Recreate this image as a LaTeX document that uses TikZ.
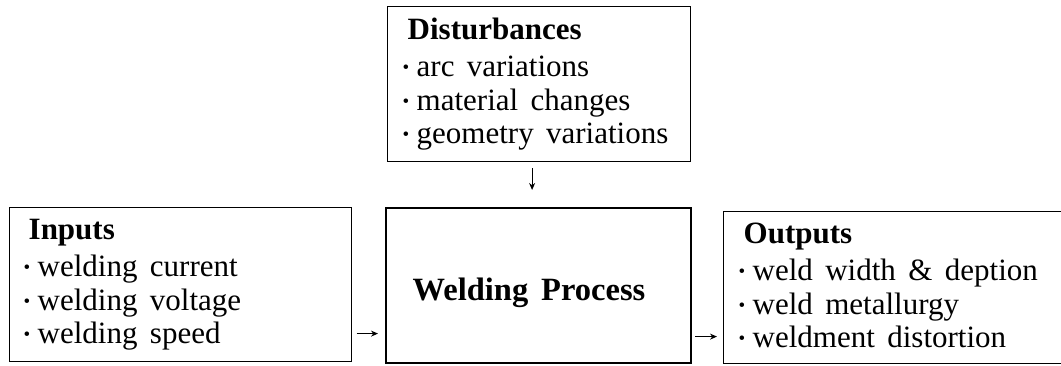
\documentclass[tikz,border=0pt]{standalone}
\usepackage{fontspec}
\setmainfont{Liberation Serif}[WordSpace=1.6]
\usetikzlibrary{arrows.meta}

% small raised bullet used in the item lists
\newcommand\bul{\makebox[14pt][l]{\raisebox{3pt}{\fontsize{19}{19}\selectfont •}}}
% header line followed by three bulleted items
\newcommand\blk[4]{%
  \begin{tabular}[t]{@{}l@{}}
    \hspace{5pt}\textbf{#1}\\[3.5pt]
    \bul #2\\
    \bul #3\\
    \bul #4
  \end{tabular}}

\tikzset{
  box/.style={draw=black, line width=1.2pt, rectangle, inner sep=0pt, anchor=north west},
  mainbox/.style={box, line width=2.2pt},
  txt/.style={inner sep=0pt, font=\fontsize{31}{33.5}\selectfont},
  arr/.style={draw=black, line width=1pt, -{Stealth[length=7pt,width=6pt]}}
}

\begin{document}
\begin{tikzpicture}[x=1pt, y=-1pt]
  \useasboundingbox (0,0) rectangle (1061,366);
  \clip (0,0) rectangle (1061,366);

  % boxes
  \node[box, minimum width=342pt, minimum height=154pt] (in) at (8.5,207) {};
  \node[box, minimum width=303pt, minimum height=155pt] (di) at (387,6) {};
  \node[mainbox, minimum width=305pt, minimum height=155pt] (wp) at (385,207) {};
  \node[box, minimum width=370pt, minimum height=152pt] (ou) at (723,211) {};

  % box contents
  \node[txt, anchor=base west] (inT) at (23.5,240)
    {\blk{Inputs}{welding current}{welding voltage}{welding speed}};
  \node[txt, anchor=base west] (diT) at (402.5,40)
    {\blk{Disturbances}{arc variations}{material changes}{geometry variations}};
  \node[txt, anchor=base west] (ouT) at (738.5,244)
    {\blk{Outputs}{weld width \& deption}{weld metallurgy}{weldment distortion}};
  \node[txt, anchor=base, font=\fontsize{32.5}{34}\selectfont] (wpT) at (529,301)
    {\textbf{Welding Process}};

  % connectors
  \draw[arr, shorten <=6pt, shorten >=17pt]
    ([xshift=-7pt]di.south) -- ([xshift=-7pt]di.south |- wp.north);
  \draw[arr, shorten <=5pt, shorten >=7pt]
    ([yshift=-49pt]in.east) -- ([yshift=-49pt]in.east -| wp.west);
  \draw[arr, shorten <=3pt, shorten >=6pt]
    ([yshift=-51pt]wp.east) -- ([yshift=-51pt]wp.east -| ou.west);
\end{tikzpicture}
\end{document}
